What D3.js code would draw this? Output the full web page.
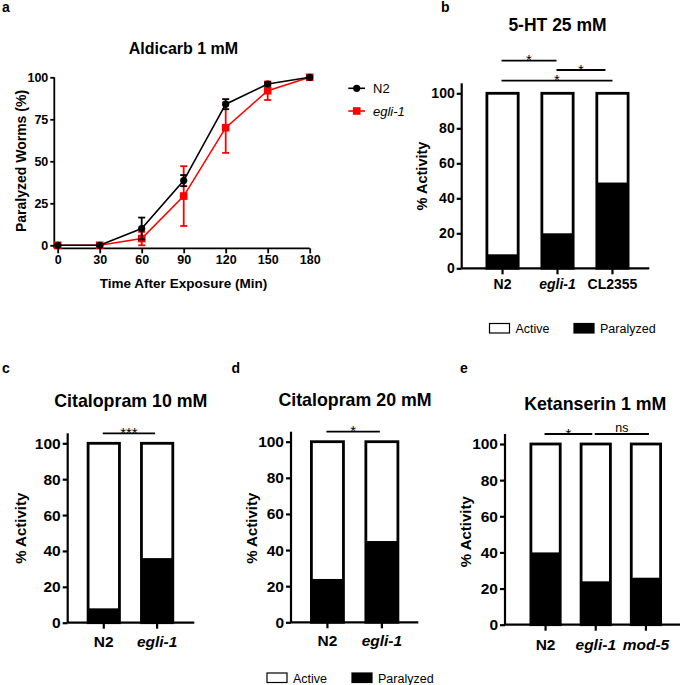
<!DOCTYPE html>
<html>
<head>
<meta charset="utf-8">
<script src="https://cdn.jsdelivr.net/npm/d3@7"></script>
<style>
  body { margin: 0; background: #fff; }
  svg { display: block; font-family: "Liberation Sans", Arial, sans-serif; }
</style>
</head>
<body>
<div id="vis"></div>
<script>
// panel a - aldicarb time course
const timeMin = [0, 30, 60, 90, 120, 150, 180];
const n2Paralyzed = [0, 0, 10, 38.5, 84, 96, 100];
const n2Err = [0, 0, 6.5, 3.3, 3, 1, 0];
const egliParalyzed = [0, 0, 4, 29.3, 70, 92, 100];
const egliErr = [0, 0, 4, 17.8, 15, 5.5, 0];
const aTicksY = [0, 25, 50, 75, 100];

// bar panels (% paralyzed, rest is active)
const pctTicks = [0, 20, 40, 60, 80, 100];
const bStrains = ["N2", "egli-1", "CL2355"];
const bParalyzed = [8, 20, 49];
const bSig = [["N2", "egli-1", "*"], ["egli-1", "CL2355", "*"], ["N2", "CL2355", "*"]];
const cStrains = ["N2", "egli-1"];
const cParalyzed = [8, 36];
const cSig = [["N2", "egli-1", "***"]];
const dStrains = ["N2", "egli-1"];
const dParalyzed = [24, 45];
const dSig = [["N2", "egli-1", "*"]];
const eStrains = ["N2", "egli-1", "mod-5"];
const eParalyzed = [40, 24, 26];
const eSig = [["N2", "egli-1", "*"], ["egli-1", "mod-5", "ns"]];
const italicNames = ["egli-1", "mod-5"];

const width = 680, height = 685;
const svg = d3.select("#vis").append("svg")
  .attr("width", width).attr("height", height);

function letter(txt, x, y) {
  svg.append("text").text(txt).attr("x", x).attr("y", y)
    .attr("font-size", 14).attr("font-weight", "bold");
}

// ---------- panel a ----------
(function () {
  const x = d3.scaleLinear().domain([0, 180]).range([57.7, 309.7]);
  const y = d3.scaleLinear().domain([0, 100]).range([245.3, 77.3]);
  const axX = 54.3, axY = 248.3;
  const g = svg.append("g");

  letter("a", 2, 12);
  g.append("text").text("Aldicarb 1 mM").attr("x", 183.5).attr("y", 54)
    .attr("text-anchor", "middle").attr("font-size", 16).attr("font-weight", "bold");

  const yAxis = g.append("g").attr("transform", `translate(${axX},0)`)
    .call(d3.axisLeft(y).tickValues(aTicksY).tickSize(4).tickPadding(2));
  const xAxis = g.append("g").attr("transform", `translate(0,${axY})`)
    .call(d3.axisBottom(x).tickValues(timeMin).tickSize(5).tickPadding(2));
  [yAxis, xAxis].forEach(a => {
    a.select(".domain").remove();
    a.selectAll(".tick line").attr("stroke", "#000").attr("stroke-width", 1.8);
    a.selectAll(".tick text").attr("font-size", 12.5).attr("font-weight", "bold")
      .attr("fill", "#000");
    a.attr("font-family", null);
  });
  g.append("line").attr("x1", axX).attr("x2", axX).attr("y1", y(100)).attr("y2", axY)
    .attr("stroke", "#000").attr("stroke-width", 1.8);
  g.append("line").attr("x1", axX).attr("x2", x(180)).attr("y1", axY).attr("y2", axY)
    .attr("stroke", "#000").attr("stroke-width", 1.8);

  g.append("text").text("Time After Exposure (Min)").attr("x", 183.5).attr("y", 288)
    .attr("text-anchor", "middle").attr("font-size", 13.5).attr("font-weight", "bold");
  g.append("text").text("Paralyzed Worms (%)")
    .attr("transform", "translate(26,161) rotate(-90)")
    .attr("text-anchor", "middle").attr("font-size", 14).attr("font-weight", "bold");

  const series = [
    { name: "egli-1", vals: egliParalyzed, err: egliErr, color: "#ff0000", shape: "square" },
    { name: "N2", vals: n2Paralyzed, err: n2Err, color: "#000000", shape: "circle" }
  ];
  const line = d3.line().x((d, i) => x(timeMin[i])).y(d => y(d));
  series.forEach(s => {
    const sg = g.append("g");
    sg.append("path").datum(s.vals).attr("d", line)
      .attr("fill", "none").attr("stroke", s.color).attr("stroke-width", 1.6);
    const pts = s.vals.map((v, i) => ({ t: timeMin[i], v: v, e: s.err[i] }));
    const eb = sg.selectAll(".eb").data(pts.filter(p => p.e > 0)).enter().append("g");
    eb.append("line").attr("x1", d => x(d.t)).attr("x2", d => x(d.t))
      .attr("y1", d => y(d.v - d.e)).attr("y2", d => y(d.v + d.e))
      .attr("stroke", s.color).attr("stroke-width", 1.8);
    [-1, 1].forEach(sg2 => {
      eb.append("line").attr("x1", d => x(d.t) - 3.5).attr("x2", d => x(d.t) + 3.5)
        .attr("y1", d => y(d.v + sg2 * d.e)).attr("y2", d => y(d.v + sg2 * d.e))
        .attr("stroke", s.color).attr("stroke-width", 1.8);
    });
    if (s.shape === "circle") {
      sg.selectAll("circle").data(pts).enter().append("circle")
        .attr("cx", d => x(d.t)).attr("cy", d => y(d.v)).attr("r", 3.6).attr("fill", s.color);
    } else {
      sg.selectAll("rect").data(pts).enter().append("rect")
        .attr("x", d => x(d.t) - 3.8).attr("y", d => y(d.v) - 3.8)
        .attr("width", 7.6).attr("height", 7.6).attr("fill", s.color);
    }
  });

  // legend
  const lg = g.append("g");
  const legendItems = [
    { name: "N2", color: "#000000", shape: "circle", y: 88.3 },
    { name: "egli-1", color: "#ff0000", shape: "square", y: 111 }
  ];
  legendItems.forEach(it => {
    lg.append("line").attr("x1", 348.3).attr("x2", 365).attr("y1", it.y).attr("y2", it.y)
      .attr("stroke", it.color).attr("stroke-width", 1.6);
    if (it.shape === "circle") {
      lg.append("circle").attr("cx", 356.7).attr("cy", it.y).attr("r", 3.6).attr("fill", it.color);
    } else {
      lg.append("rect").attr("x", 352.9).attr("y", it.y - 3.8).attr("width", 7.6).attr("height", 7.6)
        .attr("fill", it.color);
    }
    lg.append("text").text(it.name).attr("x", 373).attr("y", it.y + 4.5)
      .attr("font-size", 13)
      .attr("font-style", italicNames.includes(it.name) ? "italic" : "normal");
  });
})();

// ---------- bar panels ----------
function barPanel(o) {
  const g = svg.append("g");
  const y = d3.scaleLinear().domain([0, 100]).range([o.y0, o.y100]);
  const x = d3.scaleBand().domain(o.strains).range(o.band).paddingInner(o.pad);
  const bw = x.bandwidth(), sw = 2.8;
  const cx = s => x(s) + bw / 2;

  letter(o.letter, o.letterX, o.letterY);
  g.append("text").text(o.title).attr("x", o.titleX).attr("y", o.titleY)
    .attr("text-anchor", "middle").attr("font-size", o.titleSize).attr("font-weight", "bold");

  const data = o.strains.map((s, i) => ({ s: s, p: o.paralyzed[i] }));
  const bars = g.selectAll(".bar").data(data).enter().append("g");
  bars.append("rect").attr("x", d => x(d.s) + sw / 2).attr("width", bw - sw)
    .attr("y", d => y(100)).attr("height", d => y(0) - y(100)).attr("fill", "#fff");
  bars.append("rect").attr("x", d => x(d.s) + sw / 2).attr("width", bw - sw)
    .attr("y", d => y(d.p)).attr("height", d => y(0) - y(d.p)).attr("fill", "#000");
  bars.append("rect").attr("x", d => x(d.s) + sw / 2).attr("width", bw - sw)
    .attr("y", d => y(100)).attr("height", d => y(0) - y(100))
    .attr("fill", "none").attr("stroke", "#000").attr("stroke-width", sw);

  const yAxis = g.append("g").attr("transform", `translate(${o.axX},0)`)
    .call(d3.axisLeft(y).tickValues(pctTicks).tickSize(5).tickPadding(2));
  const xAxis = g.append("g").attr("transform", `translate(0,${o.y0})`)
    .call(d3.axisBottom(x).tickSize(6).tickPadding(o.xPad));
  [yAxis, xAxis].forEach(a => {
    a.select(".domain").remove();
    a.attr("font-family", null);
    a.selectAll(".tick line").attr("stroke", "#000").attr("stroke-width", 2.2);
    a.selectAll(".tick text").attr("font-size", o.tickSize).attr("font-weight", "bold")
      .attr("fill", "#000");
  });
  xAxis.selectAll(".tick text")
    .attr("font-style", d => italicNames.includes(d) ? "italic" : "normal");
  g.append("line").attr("x1", o.axX).attr("x2", o.axX).attr("y1", o.y100 - 10).attr("y2", o.y0)
    .attr("stroke", "#000").attr("stroke-width", 2.2);
  g.append("line").attr("x1", o.axX).attr("x2", o.axX2).attr("y1", o.y0).attr("y2", o.y0)
    .attr("stroke", "#000").attr("stroke-width", 2.2);

  g.append("text").text("% Activity")
    .attr("transform", `translate(${o.ylabX},${o.ylabY}) rotate(-90)`)
    .attr("text-anchor", "middle").attr("font-size", o.ylabSize).attr("font-weight", "bold");

  // significance bars
  o.sig.forEach((c, i) => {
    const ly = o.sigY[i];
    const x1 = cx(c[0]) - 1, x2 = cx(c[1]) - (o.sigEnd ? o.sigEnd[i] : 2);
    g.append("line").attr("x1", x1).attr("x2", x2).attr("y1", ly).attr("y2", ly)
      .attr("stroke", "#000").attr("stroke-width", 1.8);
    const ns = c[2] === "ns";
    g.append("text").text(c[2]).attr("x", (x1 + x2) / 2)
      .attr("y", ns ? ly - 2.5 : ly + 4.5)
      .attr("text-anchor", "middle").attr("font-size", ns ? 12.5 : 15);
  });

  if (o.legend) {
    const L = o.legend;
    [["Active", "#fff", L.x1], ["Paralyzed", "#000", L.x2]].forEach(it => {
      g.append("rect").attr("x", it[2]).attr("y", L.y).attr("width", 20).attr("height", 9.5)
        .attr("fill", it[1]).attr("stroke", "#000").attr("stroke-width", 1.2);
      g.append("text").text(it[0]).attr("x", it[2] + 26).attr("y", L.y + 9.5)
        .attr("font-size", 12.5);
    });
  }
}

barPanel({
  letter: "b", letterX: 441, letterY: 12,
  title: "5-HT 25 mM", titleX: 557.5, titleY: 30.7, titleSize: 17.5,
  strains: bStrains, paralyzed: bParalyzed, sig: bSig, sigY: [60.7, 70, 80.7], sigEnd: [1, 7, 0],
  y0: 268.3, y100: 93.3, axX: 461.7, axX2: 649.3, band: [485.5, 629.5], pad: 0.38,
  tickSize: 14, xPad: 4.5, ylabX: 426.5, ylabY: 176, ylabSize: 14.5,
  legend: { x1: 489.5, x2: 574, y: 323.5 }
});
barPanel({
  letter: "c", letterX: 2, letterY: 373,
  title: "Citalopram 10 mM", titleX: 130.8, titleY: 406.5, titleSize: 17.8,
  strains: cStrains, paralyzed: cParalyzed, sig: cSig, sigY: [433.3],
  y0: 622.7, y100: 443.3, axX: 67.7, axX2: 194.3, band: [86.7, 174.2], pad: 0.36,
  tickSize: 15.5, xPad: 7, ylabX: 25.5, ylabY: 528.3, ylabSize: 15
});
barPanel({
  letter: "d", letterX: 231.5, letterY: 373,
  title: "Citalopram 20 mM", titleX: 355, titleY: 405.7, titleSize: 17.8,
  strains: dStrains, paralyzed: dParalyzed, sig: dSig, sigY: [431.7],
  y0: 622.3, y100: 441.7, axX: 291, axX2: 418.3, band: [310, 399.3], pad: 0.36,
  tickSize: 15.5, xPad: 7, ylabX: 257, ylabY: 528.3, ylabSize: 15,
  legend: { x1: 267, x2: 352, y: 673 }
});
barPanel({
  letter: "e", letterX: 460, letterY: 373,
  title: "Ketanserin 1 mM", titleX: 595.3, titleY: 410, titleSize: 17.8,
  strains: eStrains, paralyzed: eParalyzed, sig: eSig, sigY: [434, 434], sigEnd: [3.5, -3],
  y0: 624.7, y100: 444, axX: 505, axX2: 680, band: [529.5, 662], pad: 0.36,
  tickSize: 15.5, xPad: 8, ylabX: 471, ylabY: 531.7, ylabSize: 15
});
</script>
</body>
</html>
